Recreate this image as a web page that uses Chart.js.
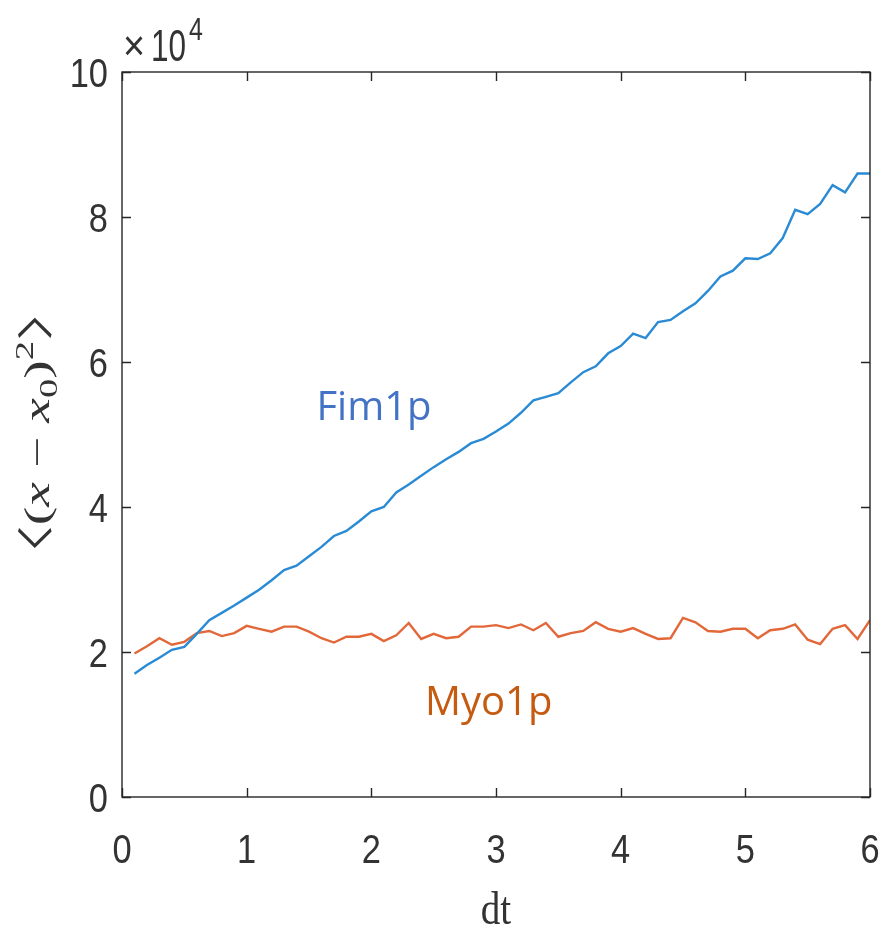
<!DOCTYPE html>
<html>
<head>
<meta charset="utf-8">
<script src="https://cdn.jsdelivr.net/npm/chart.js@4.4.1/dist/chart.umd.min.js"></script>
<style>
  html, body { margin: 0; padding: 0; background: #fff; }
  #wrap { width: 885px; height: 932px; }
</style>
</head>
<body>
<div id="wrap"><canvas id="c" width="885" height="932"></canvas></div>
<script>
// lag times
const dt = [0.1,0.2,0.3,0.4,0.5,0.6,0.7,0.8,0.9,1.0,
            1.1,1.2,1.3,1.4,1.5,1.6,1.7,1.8,1.9,2.0,
            2.1,2.2,2.3,2.4,2.5,2.6,2.7,2.8,2.9,3.0,
            3.1,3.2,3.3,3.4,3.5,3.6,3.7,3.8,3.9,4.0,
            4.1,4.2,4.3,4.4,4.5,4.6,4.7,4.8,4.9,5.0,
            5.1,5.2,5.3,5.4,5.5,5.6,5.7,5.8,5.9,6.0];

// MSD in units of 1e4
const fim1p = [1.70,1.82,1.92,2.03,2.07,2.25,2.44,2.54,2.64,2.75,
               2.86,2.99,3.13,3.19,3.32,3.45,3.60,3.67,3.80,3.94,
               4.00,4.20,4.31,4.43,4.55,4.66,4.76,4.88,4.94,5.04,
               5.15,5.30,5.47,5.52,5.57,5.72,5.86,5.94,6.12,6.22,
               6.39,6.33,6.55,6.58,6.70,6.81,6.98,7.18,7.26,7.43,
               7.42,7.50,7.71,8.10,8.04,8.18,8.44,8.34,8.60,8.60];

const myo1p = [1.98,2.08,2.19,2.10,2.14,2.26,2.29,2.22,2.26,2.36,
               2.32,2.28,2.35,2.35,2.28,2.19,2.13,2.21,2.21,2.25,
               2.15,2.23,2.40,2.18,2.25,2.19,2.21,2.35,2.35,2.37,
               2.33,2.38,2.30,2.40,2.21,2.26,2.29,2.41,2.32,2.28,
               2.33,2.25,2.18,2.19,2.47,2.41,2.29,2.28,2.32,2.32,
               2.19,2.30,2.32,2.38,2.17,2.11,2.32,2.37,2.18,2.44];

const xTicks = [0,1,2,3,4,5,6];
const yTicks = [0,2,4,6,8,10];

const AX = '#262626';
const SANS = '"Liberation Sans", Arial, sans-serif';
const SERIF = '"Liberation Serif", "DejaVu Serif", serif';

const pts = arr => dt.map((x, i) => ({ x: x, y: arr[i] }));

// text squeezed horizontally, like the stretched original figure
function narrowText(ctx, txt, x, y, align, sx){
  ctx.save();
  ctx.translate(x, y);
  ctx.scale(sx, 1);
  ctx.textAlign = align;
  ctx.fillText(txt, 0, 0);
  ctx.restore();
}

const matlabAxes = {
  id: 'matlabAxes',
  afterDraw(chart){
    const ctx = chart.ctx, a = chart.chartArea;
    const sx = chart.scales.x, sy = chart.scales.y;
    ctx.save();
    ctx.strokeStyle = AX; ctx.lineWidth = 1.4;
    ctx.strokeRect(a.left, a.top, a.right - a.left, a.bottom - a.top);
    ctx.beginPath();
    xTicks.forEach(v => {
      const px = Math.round(sx.getPixelForValue(v)) + 0.5;
      ctx.moveTo(px, a.bottom); ctx.lineTo(px, a.bottom - 9);
      ctx.moveTo(px, a.top); ctx.lineTo(px, a.top + 9);
    });
    yTicks.forEach(v => {
      const py = Math.round(sy.getPixelForValue(v)) + 0.5;
      ctx.moveTo(a.left, py); ctx.lineTo(a.left + 9, py);
      ctx.moveTo(a.right, py); ctx.lineTo(a.right - 9, py);
    });
    ctx.stroke();

    ctx.fillStyle = '#333';
    ctx.textBaseline = 'alphabetic';
    ctx.font = '41px ' + SANS;
    xTicks.forEach(v => narrowText(ctx, String(v), sx.getPixelForValue(v), a.bottom + 66, 'center', 0.84));
    yTicks.forEach(v => narrowText(ctx, String(v), a.left - 14, sy.getPixelForValue(v) + 15, 'right', 0.84));

    // exponent
    ctx.font = '42px ' + SANS;
    narrowText(ctx, '\u00D7', a.left + 1, 60, 'left', 0.9);
    ctx.font = '45px ' + SANS;
    narrowText(ctx, '10', a.left + 29, 61, 'left', 0.7);
    ctx.font = '32px ' + SANS;
    narrowText(ctx, '4', a.left + 67, 40, 'left', 0.78);

    // x title
    ctx.font = '46px ' + SERIF;
    narrowText(ctx, 'dt', (a.left + a.right) / 2, 924, 'center', 0.85);

    // y title, rotated
    const parts = [
      { t: '\u3008', f: '36px "Noto Sans CJK SC", ' + SERIF, dy: 0, cut: 0.5 },
      { t: '(', f: '36px ' + SERIF, dy: 0 },
      { t: 'x', f: 'italic 36px ' + SERIF, dy: 0 },
      { t: ' \u2212 ', f: '36px ' + SERIF, dy: 0 },
      { t: 'x', f: 'italic 36px ' + SERIF, dy: 0 },
      { t: '0', f: '25px ' + SERIF, dy: 8 },
      { t: ')', f: '36px ' + SERIF, dy: 0 },
      { t: '2', f: '25px ' + SERIF, dy: -16 },
      { t: '\u3009', f: '36px "Noto Sans CJK SC", ' + SERIF, dy: 0, cut: 0.5 }
    ];
    let total = 0;
    parts.forEach(p => {
      ctx.font = p.f;
      p.w = ctx.measureText(p.t).width;
      p.adv = p.cut ? p.w * p.cut : p.w;
      total += p.adv;
    });
    ctx.translate(49, 433);
    ctx.rotate(-Math.PI / 2);
    ctx.scale(240 / total, 1);
    let cx = -total / 2;
    ctx.fillStyle = '#333';
    ctx.textAlign = 'left';
    parts.forEach((p, i) => {
      ctx.font = p.f;
      // opening CJK bracket sits in the right half of its cell
      const off = (p.cut && i === 0) ? -p.w * 0.5 : 0;
      ctx.fillText(p.t, cx + off, p.dy);
      cx += p.adv;
    });
    ctx.restore();

    // series labels
    ctx.save();
    ctx.textAlign = 'left';
    ctx.textBaseline = 'alphabetic';
    ctx.font = '40px "Open Sans", sans-serif';
    ctx.fillStyle = '#4472C4';
    ctx.fillText('Fim1p', sx.getPixelForValue(1.56), sy.getPixelForValue(5.2));
    ctx.fillStyle = '#C55A11';
    ctx.fillText('Myo1p', sx.getPixelForValue(2.43), sy.getPixelForValue(1.13));
    ctx.restore();
  }
};

new Chart(document.getElementById('c'), {
  type: 'line',
  data: {
    datasets: [
      { label: 'Fim1p', data: pts(fim1p), borderColor: '#2a8bd4', borderWidth: 2.4,
        pointRadius: 0, tension: 0, fill: false },
      { label: 'Myo1p', data: pts(myo1p), borderColor: '#e2683a', borderWidth: 2.4,
        pointRadius: 0, tension: 0, fill: false }
    ]
  },
  options: {
    responsive: false,
    animation: false,
    layout: { padding: { top: 72, right: 15, left: 0, bottom: 0 } },
    plugins: { legend: { display: false }, tooltip: { enabled: false } },
    scales: {
      x: {
        type: 'linear', min: 0, max: 6,
        ticks: { display: false, stepSize: 1 },
        grid: { display: false }, border: { display: false },
        afterFit(s){ s.height = 135; s.paddingLeft = 0; s.paddingRight = 0; }
      },
      y: {
        type: 'linear', min: 0, max: 10,
        ticks: { display: false, stepSize: 2 },
        grid: { display: false }, border: { display: false },
        afterFit(s){ s.width = 122; s.paddingTop = 0; s.paddingBottom = 0; }
      }
    }
  },
  plugins: [matlabAxes]
});
</script>
</body>
</html>
